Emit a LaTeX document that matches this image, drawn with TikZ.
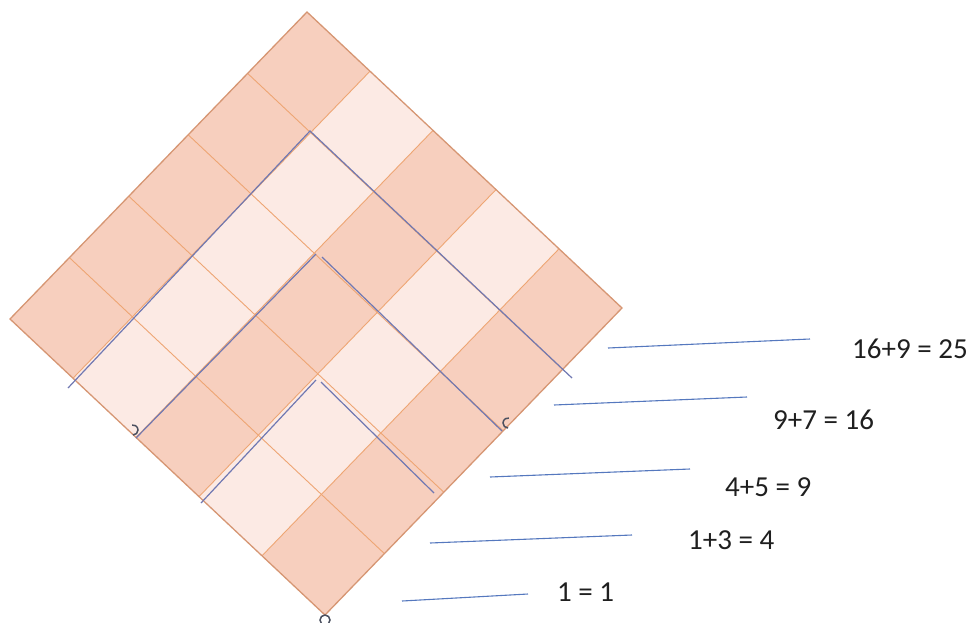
\documentclass[tikz,border=0pt]{standalone}
\usepackage{fontspec}
\setmainfont{Carlito}
\definecolor{darkcell}{RGB}{247,207,190}
\definecolor{lightcell}{RGB}{252,234,228}
\definecolor{gridor}{RGB}{238,165,115}
\definecolor{borderor}{RGB}{214,150,115}
\definecolor{gnomblue}{RGB}{112,120,178}
\definecolor{labblue}{RGB}{85,120,190}
\definecolor{markgray}{RGB}{75,80,95}
\tikzset{
  cellD/.style={fill=darkcell},
  cellL/.style={fill=lightcell},
  gridline/.style={draw=gridor,line width=0.9pt},
  borderline/.style={draw=borderor,line width=1.3pt,line join=miter},
  gnomon/.style={draw=gnomblue,line width=1.2pt},
  labline/.style={draw=labblue,line width=1.1pt},
  eqtext/.style={anchor=west,inner sep=0pt,font=\fontsize{29}{35}\selectfont,text=black!88},
  endmark/.style={draw=markgray,line width=1.5pt}
}
\begin{document}
\begin{tikzpicture}[x=1pt,y=-1pt]
\useasboundingbox (0,0) rectangle (972,622);
% rotated 5x5 grid
\begin{scope}[shift={(307,12)},x={(63pt,-59.2pt)},y={(-59.4pt,-61.4pt)}]
  \foreach \i in {0,2,4} \fill[cellD] (\i,0) -- (\i+1,0) -- (\i+1,5) -- (\i,5) -- cycle;
  \foreach \i in {1,3} \fill[cellL] (\i,0) -- (\i+1,0) -- (\i+1,5) -- (\i,5) -- cycle;
  \foreach \k in {1,2,3,4} {
    \draw[gridline] (\k,0) -- (\k,5);
    \draw[gridline] (0,\k) -- (5,\k);
  }
  \draw[borderline] (0,0) -- (5,0) -- (5,5) -- (0,5) -- cycle;
\end{scope}
% gnomon separators
\coordinate (g1l) at (68,388);  \coordinate (g1a) at (310,131); \coordinate (g1r) at (572,378);
\coordinate (g2l) at (136,438); \coordinate (g2a) at (316,254);
\coordinate (g2b) at (322,257); \coordinate (g2r) at (502,431);
\coordinate (g3l) at (201,503); \coordinate (g3a) at (316,380);
\coordinate (g3b) at (321,382); \coordinate (g3r) at (434,493);
\draw[gnomon] (g1l) -- (g1a) -- (g1r);
\draw[gnomon] (g2l) -- (g2a);
\draw[gnomon] (g2b) -- (g2r);
\draw[gnomon] (g3l) -- (g3a);
\draw[gnomon] (g3b) -- (g3r);
% small end marks
\draw[endmark] (133,435) arc[start angle=90,end angle=-100,radius=5];
\draw[endmark] (508,428) arc[start angle=90,end angle=280,radius=5];
\draw[endmark] (325,620) circle[radius=5];
% equation labels
\node[eqtext] (e25) at (852,349) {16+9 = 25};
\node[eqtext] (e16) at (773,420) {9+7 = 16};
\node[eqtext] (e9)  at (725,487) {4+5 = 9};
\node[eqtext] (e4)  at (688,540) {1+3 = 4};
\node[eqtext] (e1)  at (557,592) {1 = 1};
\draw[labline] (608,348) -- (810,339);
\draw[labline] (554,405) -- (747,397);
\draw[labline] (490,477) -- (690,469);
\draw[labline] (430,543) -- (632,535);
\draw[labline] (402,601) -- (528,594);
\end{tikzpicture}
\end{document}
